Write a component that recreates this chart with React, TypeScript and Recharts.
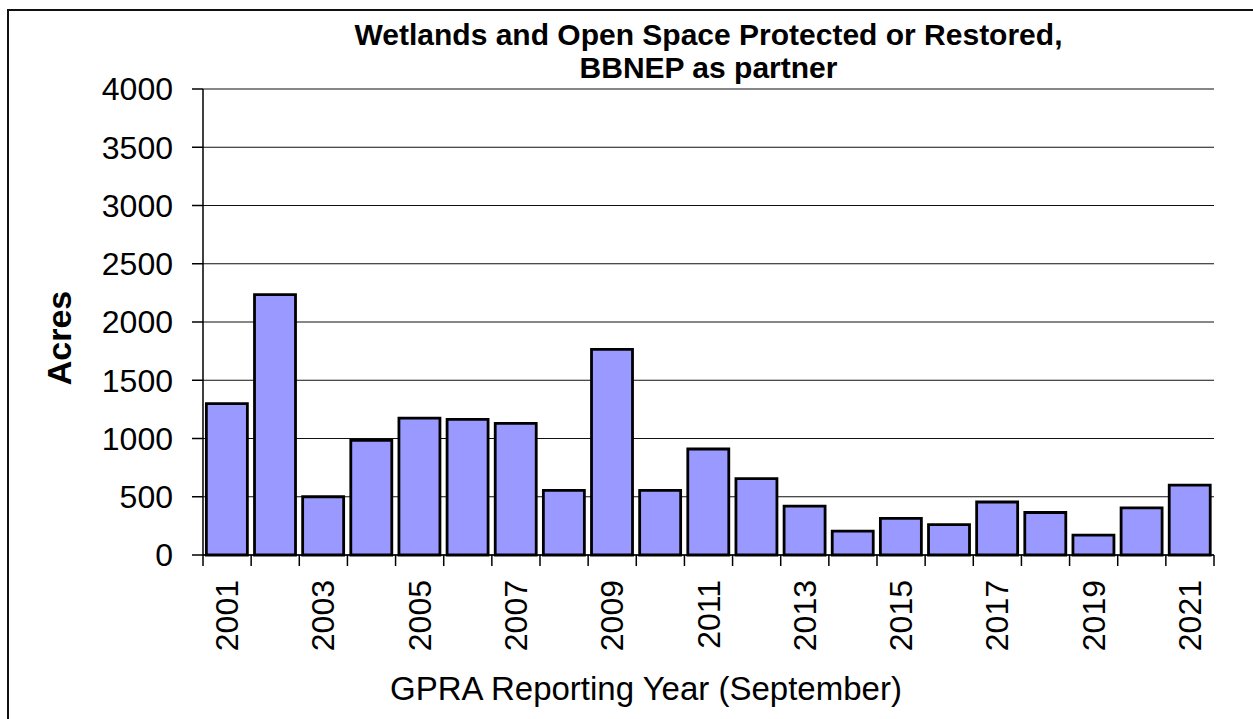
import React from 'react';
import { BarChart, Bar, XAxis, YAxis, CartesianGrid } from 'recharts';

const years = [
  '2001', '2002', '2003', '2004', '2005', '2006', '2007', '2008', '2009', '2010', '2011',
  '2012', '2013', '2014', '2015', '2016', '2017', '2018', '2019', '2020', '2021',
];
const acres = [
  1300, 2235, 500, 985, 1175, 1165, 1130, 555, 1765, 555, 910,
  655, 420, 205, 315, 260, 455, 365, 170, 405, 600,
];
const yTicks = [0, 500, 1000, 1500, 2000, 2500, 3000, 3500, 4000];

const W = 1253;
const H = 719;
const margin = { top: 89, right: 39, left: 8, bottom: 0 };
const Y_AXIS_W = 195;
const X_AXIS_H = 164;
const PLOT_W = W - margin.left - margin.right - Y_AXIS_W;
const STEP = PLOT_W / years.length;
const FONT = '"Liberation Sans", Arial, sans-serif';

const data = years.map((year, i) => ({ year, acres: acres[i] }));

// tick marks sit between the bars; labels every other year, rotated
const XTick = (props: any) => {
  const { x, y, payload } = props;
  const i = years.indexOf(payload.value);
  const left = x - STEP / 2;
  return (
    <g>
      <line x1={left} y1={y} x2={left} y2={y + 11} stroke="#000" strokeWidth={1.5} />
      {i === years.length - 1 && (
        <line x1={x + STEP / 2} y1={y} x2={x + STEP / 2} y2={y + 11} stroke="#000" strokeWidth={1.5} />
      )}
      {i % 2 === 0 && (
        <text
          x={x}
          y={y + 25}
          transform={`rotate(-90, ${x}, ${y + 25})`}
          textAnchor="end"
          dominantBaseline="central"
          fontSize={32}
          fontFamily={FONT}
          fill="#000"
        >
          {payload.value}
        </text>
      )}
    </g>
  );
};

const App: React.FC = () => {
  return (
    <div
      style={{
        position: 'absolute',
        left: 0,
        top: 0,
        width: W,
        height: H,
        overflow: 'hidden',
        background: '#fff',
        fontFamily: FONT,
      }}
    >
      <div
        style={{
          position: 'absolute',
          left: 7,
          top: 9,
          width: 1400,
          height: 900,
          border: '2px solid #111',
        }}
      />
      <div
        style={{
          position: 'absolute',
          left: margin.left + Y_AXIS_W,
          top: 18,
          width: PLOT_W,
          textAlign: 'center',
          fontSize: 30,
          lineHeight: '33px',
          fontWeight: 'bold',
          color: '#000',
        }}
      >
        Wetlands and Open Space Protected or Restored,
        <br />
        BBNEP as partner
      </div>
      <BarChart width={W} height={H} data={data} margin={margin} barCategoryGap="7%">
        <CartesianGrid vertical={false} stroke="#111" strokeWidth={1.2} />
        <XAxis
          dataKey="year"
          height={X_AXIS_H}
          interval={0}
          tickLine={false}
          tickSize={0}
          tickMargin={0}
          tick={<XTick />}
          axisLine={{ stroke: '#000', strokeWidth: 1.5 }}
          label={{
            content: () => (
              <text x={646} y={700} textAnchor="middle" fontSize={33} fontFamily={FONT} fill="#000">
                GPRA Reporting Year (September)
              </text>
            ),
          }}
        />
        <YAxis
          width={Y_AXIS_W}
          domain={[0, 4000]}
          ticks={yTicks}
          interval={0}
          tickSize={11}
          tickMargin={19}
          tick={{ fontSize: 32, fill: '#000', fontFamily: FONT }}
          tickLine={{ stroke: '#000', strokeWidth: 1.5 }}
          axisLine={{ stroke: '#000', strokeWidth: 1.5 }}
          label={{
            content: () => (
              <text
                x={59}
                y={338}
                transform="rotate(-90, 59, 338)"
                textAnchor="middle"
                dominantBaseline="central"
                fontSize={34}
                fontWeight="bold"
                fontFamily={FONT}
                fill="#000"
              >
                Acres
              </text>
            ),
          }}
        />
        <YAxis
          yAxisId="right"
          orientation="right"
          width={0}
          tick={false}
          tickLine={false}
          axisLine={{ stroke: '#888', strokeWidth: 2 }}
        />
        <Bar
          dataKey="acres"
          fill="#9999FF"
          stroke="#000"
          strokeWidth={2.8}
          isAnimationActive={false}
        />
      </BarChart>
    </div>
  );
};

export default App;
